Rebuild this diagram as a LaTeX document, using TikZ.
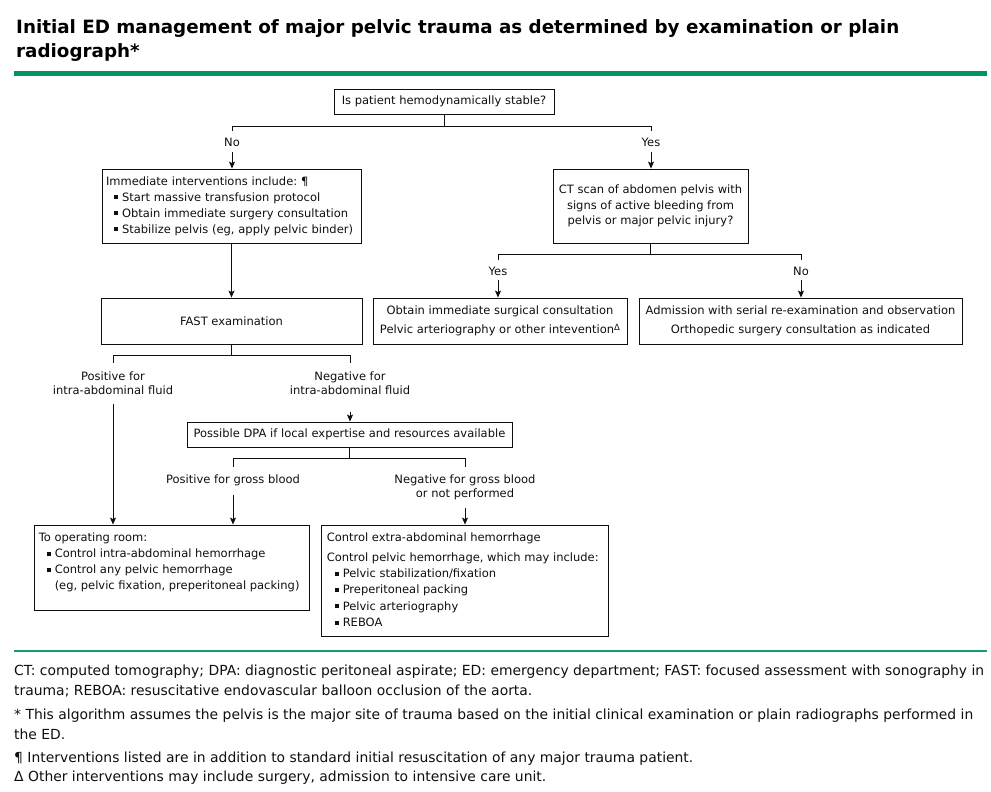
\documentclass[tikz,border=0pt]{standalone}
\usepackage{fontspec}
\setmainfont{DejaVu Sans}
\usetikzlibrary{arrows.meta}
\definecolor{hdgreen}{RGB}{0,150,100}
\definecolor{ftgreen}{RGB}{25,155,105}
\definecolor{ink}{RGB}{15,15,15}
\newcommand{\fs}{\fontsize{11.5}{16}\selectfont}
\newcommand{\bl}{\hspace*{8pt}\rule[1.8pt]{4pt}{4pt}\hspace*{4pt}}
\newcommand{\blind}{\hspace*{16pt}}
\begin{document}
\begin{tikzpicture}[x=1pt,y=-1pt,
  box/.style={draw=ink, line width=0.9pt, inner sep=0pt, font=\fs, text=ink},
  lbl/.style={font=\fs, inner sep=1pt, align=center, text=ink},
  arr/.style={draw=ink, -{Stealth[length=7pt,width=6pt,inset=1.5pt]}, line width=0.9pt},
  ln/.style={draw=ink, line width=0.9pt},
  foot/.style={anchor=base west, inner sep=0pt, font=\fontsize{13.9}{16}\selectfont, text=ink}]
\useasboundingbox (0,0) rectangle (991,792);
% title
\node[anchor=base west, inner sep=0pt, font=\bfseries\fontsize{18.3}{24}\selectfont] (title1) at (16,34) {Initial ED management of major pelvic trauma as determined by examination or plain};
\node[anchor=base west, inner sep=0pt, font=\bfseries\fontsize{18.3}{24}\selectfont] (title2) at (16,58) {radiograph*};
\draw[hdgreen, line width=5pt] (14,74) -- (987,74);
% boxes
\node[box, minimum width=220, minimum height=25] (stable) at (444,101.5) {Is patient hemodynamically stable?};
\node[box, minimum width=259, minimum height=74, align=left, text width=251] (interv) at (231.5,206)
  {Immediate interventions include:~¶\\ \bl Start massive transfusion protocol\\ \bl Obtain immediate surgery consultation\\ \bl Stabilize pelvis (eg, apply pelvic binder)};
\node[box, minimum width=195, minimum height=74, align=center, font=\fontsize{11.5}{15.5}\selectfont] (ct) at (650.5,206)
  {CT scan of abdomen pelvis with\\signs of active bleeding from\\pelvis or major pelvic injury?};
\node[box, minimum width=261, minimum height=46] (fast) at (231.5,321) {FAST examination};
\node[box, minimum width=254, minimum height=46, align=center, font=\fontsize{11.5}{19}\selectfont] (surg) at (500,321)
  {Obtain immediate surgical consultation\\Pelvic arteriography or other intevention\raisebox{3pt}{\fontsize{8.5}{8}\selectfont Δ}};
\node[box, minimum width=323, minimum height=46, align=center, font=\fontsize{11.5}{19}\selectfont] (adm) at (800.5,321)
  {Admission with serial re-examination and observation\\Orthopedic surgery consultation as indicated};
\node[box, minimum width=325, minimum height=25] (dpa) at (349.5,434.5) {Possible DPA if local expertise and resources available};
\node[box, minimum width=275, minimum height=85] (or) at (171.5,567.5) {};
\node[anchor=north west, inner sep=0pt, align=left, font=\fontsize{11.5}{16}\selectfont, text=ink] (ortext) at ([shift={(5,8)}]or.north west)
  {To operating room:\\ \bl Control intra-abdominal hemorrhage\\ \bl Control any pelvic hemorrhage\\ \blind(eg, pelvic fixation, preperitoneal packing)};
\node[box, minimum width=287, minimum height=111] (ctrl) at (464.5,580.5) {};
\node[anchor=north west, inner sep=0pt, align=left, font=\fontsize{11.5}{16.3}\selectfont, text=ink] (ctrltext) at ([shift={(6,8)}]ctrl.north west)
  {Control extra-abdominal hemorrhage\\[3.5pt] Control pelvic hemorrhage, which may include:\\ \bl Pelvic stabilization/fixation\\ \bl Preperitoneal packing\\ \bl Pelvic arteriography\\ \bl REBOA};
% labels
\node[lbl] (no1) at (232,142) {No};
\node[lbl] (yes1) at (651,142) {Yes};
\node[lbl] (yes2) at (498,271) {Yes};
\node[lbl] (no2) at (801,271) {No};
\node[lbl, font=\fontsize{11.5}{14}\selectfont] (pos1) at (113,383) {Positive for\\intra-abdominal fluid};
\node[lbl, font=\fontsize{11.5}{14}\selectfont] (neg1) at (350,383) {Negative for\\intra-abdominal fluid};
\node[lbl] (pos2) at (233,480) {Positive for gross blood};
\node[lbl, font=\fontsize{11.5}{14}\selectfont] (neg2) at (465,487) {Negative for gross blood\\or not performed};
% connectors
\path (stable.south) ++(0,12) coordinate (j1);
\draw[ln] (stable.south) -- (j1);
\draw[ln] (j1 -| no1) -- (j1 -| yes1);
\draw[ln] (j1 -| no1) -- ++(0,5);
\draw[ln] (j1 -| yes1) -- ++(0,5);
\draw[arr, shorten <=5pt] (no1.south) -- (no1.south |- interv.north);
\draw[arr, shorten <=5pt] (yes1.south) -- (yes1.south |- ct.north);
\draw[arr] (interv.south) -- (fast.north);
\path (ct.south) ++(0,11) coordinate (j2);
\draw[ln] (ct.south) -- (j2);
\draw[ln] (j2 -| yes2) -- (j2 -| no2);
\draw[ln] (j2 -| yes2) -- ++(0,6);
\draw[ln] (j2 -| no2) -- ++(0,6);
\draw[arr, shorten <=4pt] (yes2.south) -- (yes2.south |- surg.north);
\draw[arr, shorten <=4pt] (no2.south) -- (no2.south |- adm.north);
\path (fast.south) ++(0,11) coordinate (j3);
\draw[ln] (fast.south) -- (j3);
\draw[ln] (j3 -| pos1) -- (j3 -| neg1);
\draw[ln] (j3 -| pos1) -- ++(0,8);
\draw[ln] (j3 -| neg1) -- ++(0,8);
\draw[arr, shorten <=16pt] (neg1.south) -- (neg1.south |- dpa.north);
\draw[arr, shorten <=8pt] (pos1.south) -- (pos1.south |- or.north);
\path (dpa.south) ++(0,11) coordinate (j4);
\draw[ln] (dpa.south) -- (j4);
\draw[ln] (j4 -| pos2) -- (j4 -| neg2);
\draw[ln] (j4 -| pos2) -- ++(0,9);
\draw[ln] (j4 -| neg2) -- ++(0,9);
\draw[arr, shorten <=8pt] (pos2.south) -- (pos2.south |- or.north);
\draw[arr, shorten <=7pt] (neg2.south) -- (neg2.south |- ctrl.north);
% footer
\draw[ftgreen, line width=2.5pt] (14,651) -- (987,651);
\node[foot] (f1) at (14,675) {CT: computed tomography; DPA: diagnostic peritoneal aspirate; ED: emergency department; FAST: focused assessment with sonography in};
\node[foot] (f2) at (14,695) {trauma; REBOA: resuscitative endovascular balloon occlusion of the aorta.};
\node[foot] (f3) at (14,719) {* This algorithm assumes the pelvis is the major site of trauma based on the initial clinical examination or plain radiographs performed in};
\node[foot] (f4) at (14,739) {the ED.};
\node[foot] (f5) at (14,762) {¶ Interventions listed are in addition to standard initial resuscitation of any major trauma patient.};
\node[foot] (f6) at (14,781) {Δ Other interventions may include surgery, admission to intensive care unit.};
\end{tikzpicture}
\end{document}
